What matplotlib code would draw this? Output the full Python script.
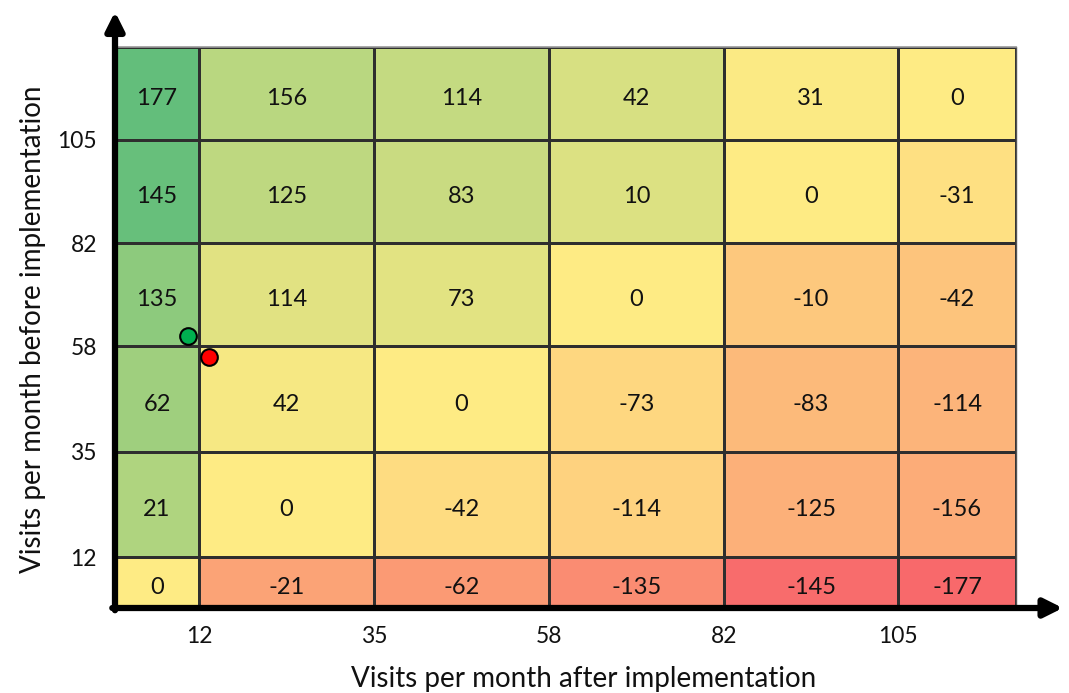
import numpy as np
import matplotlib
matplotlib.use("Agg")
import matplotlib.pyplot as plt
import matplotlib.transforms as mtransforms
from matplotlib.colors import LinearSegmentedColormap

plt.rcParams["font.family"] = ["Lato", "DejaVu Sans"]

# Visits per month band boundaries (tick labels)
x_ticks = [12, 35, 58, 82, 105]
y_ticks = [12, 35, 58, 82, 105]

# Change in visits per cell; rows from top (highest "before") to bottom
values = [
    [177, 156, 114, 42, 31, 0],
    [145, 125, 83, 10, 0, -31],
    [135, 114, 73, 0, -10, -42],
    [62, 42, 0, -73, -83, -114],
    [21, 0, -42, -114, -125, -156],
    [0, -21, -62, -135, -145, -177],
]

# Colour-scale score per cell (-1 red .. 0 yellow .. +1 green)
shade = [
    [1.00, 0.45, 0.38, 0.25, 0.03, 0.00],
    [0.97, 0.42, 0.35, 0.22, 0.00, -0.08],
    [0.73, 0.19, 0.18, 0.00, -0.27, -0.30],
    [0.61, 0.06, 0.00, -0.15, -0.38, -0.42],
    [0.51, 0.00, -0.11, -0.19, -0.45, -0.48],
    [0.00, -0.55, -0.62, -0.73, -0.97, -1.00],
]

# Two highlighted sites: (after, before) visits per month
green_point = (10.4, 60.3)
red_point = (13.3, 55.6)

# Band edges in visits and their drawn widths/heights
x_visit_edges = [0, 12, 35, 58, 82, 105, 120]
y_visit_edges = [0, 12, 35, 58, 82, 105, 125]
x_pos_edges = np.concatenate([[0], np.cumsum([84, 175, 175, 175, 174, 118])])
y_pos_edges = np.concatenate([[0], np.cumsum([51, 105, 106, 103, 103, 93])])

cmap = LinearSegmentedColormap.from_list(
    "excel3", ["#F8696B", "#FFEB84", "#63BE7B"])

fig = plt.figure(figsize=(10.69, 6.93), dpi=100)
ax = fig.add_axes([115 / 1069, 85 / 693, 901 / 1069, 561 / 693])

grid = np.array(shade)[::-1]  # bottom row first
ax.pcolormesh(x_pos_edges, y_pos_edges, grid, cmap=cmap, vmin=-1, vmax=1,
              edgecolor="#2e2e2e", linewidth=0.85)

vals = np.array(values)[::-1]
xc = (x_pos_edges[:-1] + x_pos_edges[1:]) / 2
yc = (y_pos_edges[:-1] + y_pos_edges[1:]) / 2
text_tr = mtransforms.offset_copy(ax.transData, fig=fig, x=0, y=-2.5,
                                  units="points")
for i in range(vals.shape[0]):
    for j in range(vals.shape[1]):
        ax.text(xc[j], yc[i], str(vals[i, j]), ha="center",
                va="center_baseline", fontsize=17, color="#111111",
                transform=text_tr)


def to_pos(pt):
    return (np.interp(pt[0], x_visit_edges, x_pos_edges),
            np.interp(pt[1], y_visit_edges, y_pos_edges))


for pt, col in [(green_point, "#00B050"), (red_point, "#FF0000")]:
    px, py = to_pos(pt)
    ax.plot(px, py, "o", ms=12, mfc=col, mec="black", mew=1.5, zorder=5,
            clip_on=False)

ax.set_xlim(x_pos_edges[0], x_pos_edges[-1])
ax.set_ylim(y_pos_edges[0], y_pos_edges[-1])
ax.set_xticks(np.interp(x_ticks, x_visit_edges, x_pos_edges))
ax.set_xticklabels([str(t) for t in x_ticks])
ax.set_yticks(np.interp(y_ticks, y_visit_edges, y_pos_edges))
ax.set_yticklabels([str(t) for t in y_ticks])
ax.tick_params(length=0, labelsize=16.5, colors="#111111")
ax.tick_params(axis="x", pad=13)
ax.tick_params(axis="y", pad=13)

ax.spines["top"].set_color("#999999")
ax.spines["top"].set_linewidth(1.2)
ax.spines["right"].set_color("#555555")
ax.spines["right"].set_linewidth(1.0)
for s in ("left", "bottom"):
    ax.spines[s].set_visible(False)

# Thick axis arrows
arrow_kw = dict(arrowstyle="-|>,head_length=1.1,head_width=0.55",
                color="black", lw=4.5, shrinkA=0, shrinkB=0)
ax.annotate("", xy=(0, 1.063), xytext=(0, -0.004), xycoords="axes fraction",
            textcoords="axes fraction", arrowprops=arrow_kw,
            annotation_clip=False)
ax.annotate("", xy=(1.052, 0), xytext=(-0.003, 0), xycoords="axes fraction",
            textcoords="axes fraction", arrowprops=arrow_kw,
            annotation_clip=False)

fig.text(584 / 1069, 1 - 679 / 693, "Visits per month after implementation",
         ha="center", va="center", fontsize=20, color="#111111")
fig.text(33 / 1069, 1 - 329 / 693, "Visits per month before implementation",
         ha="center", va="center", rotation=90, fontsize=20,
         color="#111111")

fig.savefig("out.png", dpi=100)
